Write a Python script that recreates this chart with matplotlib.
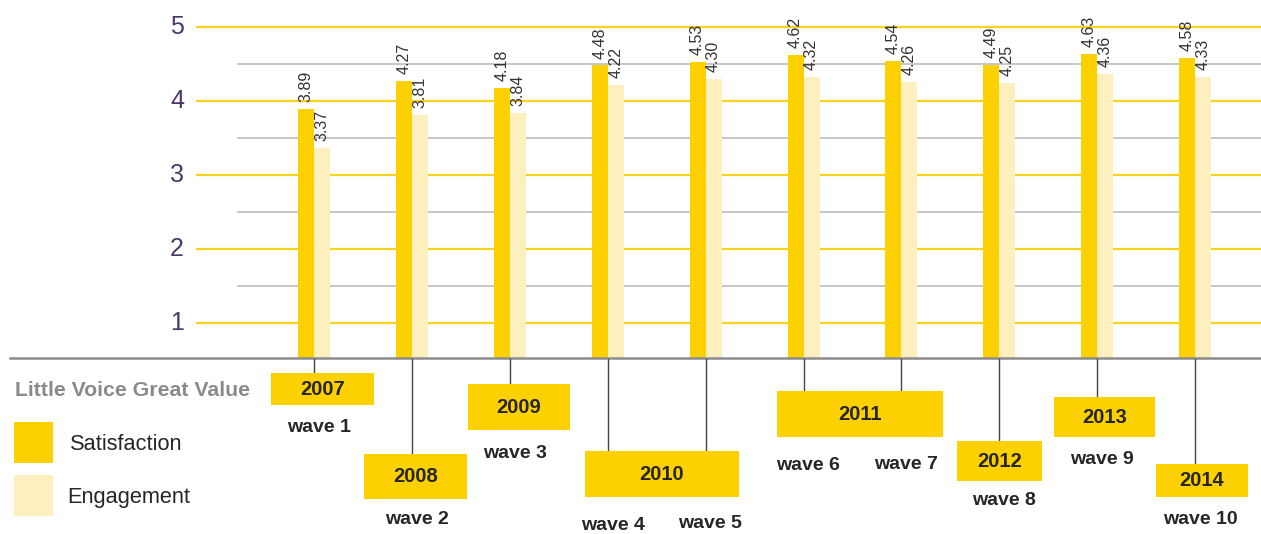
import numpy as np
from matplotlib import pyplot as plt
from matplotlib.patches import Rectangle

plt.rcParams['font.family'] = ['Liberation Sans', 'DejaVu Sans']

# data
waves = ['wave 1', 'wave 2', 'wave 3', 'wave 4', 'wave 5',
         'wave 6', 'wave 7', 'wave 8', 'wave 9', 'wave 10']
satisfaction = [3.89, 4.27, 4.18, 4.48, 4.53, 4.62, 4.54, 4.49, 4.63, 4.58]
engagement = [3.37, 3.81, 3.84, 4.22, 4.30, 4.32, 4.26, 4.25, 4.36, 4.33]
years = ['2007', '2008', '2009', '2010', '2011', '2012', '2013', '2014']
year_waves = [[0], [1], [2], [3, 4], [5, 6], [7], [8], [9]]
y_ticks = [1, 2, 3, 4, 5]

# layout (pixels from top for the timeline part)
box_x = [(-0.44, 0.61), (-0.49, 0.56), (-0.43, 0.62), (-0.23, 0.34),
         (-0.27, 0.42), (-0.43, 0.44), (-0.44, 0.59), (-0.40, 0.54)]
box_y = [(373, 405), (454, 499), (384, 430), (451, 497),
         (391, 437), (441, 481), (397, 437), (464, 497)]
wave_y = [427, 520, 453, 525, 524, 465, 464, 500, 459, 519]

SAT = '#FDD000'
ENG = '#FDF0BE'
GRID_Y = '#F9D21A'
GRID_G = '#BDBDC0'
PURPLE = '#4B3868'
TXT = '#262626'

W, H = 1261, 534
fig = plt.figure(figsize=(W / 100, H / 100), dpi=100)

base_px = 358
ax = fig.add_axes([0, (H - base_px) / H, 1, base_px / H])
x = np.arange(len(waves))
step = 97.9
x0 = 314
ax.set_xlim(-x0 / step, (W - x0) / step)
ax.set_ylim(1 - 35 / 74, 5 + 27 / 74)
ax.axis('off')

for v in y_ticks:
    ax.axhline(v, xmin=197 / W, xmax=1, color=GRID_Y, lw=1.6, zorder=1)
    ax.text(184 / W, v, str(v), transform=ax.get_yaxis_transform(),
            ha='right', va='center', fontsize=18, color=PURPLE)
for v in y_ticks[:-1]:
    ax.axhline(v + 0.5, xmin=238 / W, xmax=1, color=GRID_G, lw=1.2, zorder=1)

bw = 16 / step
b1 = ax.bar(x - bw / 2, satisfaction, bw, color=SAT, bottom=0, zorder=2)
b2 = ax.bar(x + bw / 2, engagement, bw, color=ENG, bottom=0, zorder=2)
for bars, vals in [(b1, satisfaction), (b2, engagement)]:
    for r, v in zip(bars, vals):
        ax.annotate(f'{v:.2f}', (r.get_x() + r.get_width() / 2, v),
                    xytext=(0, 5), textcoords='offset points',
                    rotation=90, ha='center', va='bottom',
                    fontsize=11.5, color='#333333')

ax.axhline(ax.get_ylim()[0], xmin=10 / W, xmax=1, color='#8C8C8C',
           lw=1.8, zorder=3, clip_on=False)

# timeline part below the baseline
tl = fig.add_axes([0, 0, 1, (H - base_px) / H])
tl.set_xlim(ax.get_xlim())
tl.set_ylim(H, base_px)
tl.axis('off')

for yr, idx, (l, r), (t, b) in zip(years, year_waves, box_x, box_y):
    left = idx[0] + l
    right = idx[-1] + r
    tl.add_patch(Rectangle((left, t), right - left, b - t,
                           color=SAT, lw=0, zorder=2))
    tl.text((left + right) / 2, (t + b) / 2, yr, ha='center', va='center',
            fontsize=14.5, fontweight='bold', color=TXT, zorder=3)
    for i in idx:
        tl.plot([i, i], [base_px + 1, t], color='#444444', lw=1, zorder=1)

for i, (wv, wy) in enumerate(zip(waves, wave_y)):
    tl.text(i + 0.05, wy, wv, ha='center', va='center',
            fontsize=14, fontweight='bold', color=TXT)

# legend
fig.text(15 / W, 1 - 391 / H, 'Little Voice Great Value', ha='left',
         va='center', fontsize=15.3, fontweight='bold', color='#8A8A8C')
for lab, col, top, tx in [('Satisfaction', SAT, 422, 70),
                          ('Engagement', ENG, 475, 67)]:
    fig.patches.append(Rectangle((14 / W, 1 - (top + 41) / H), 39 / W, 41 / H,
                                 transform=fig.transFigure, color=col, lw=0))
    fig.text(tx / W, 1 - (top + 23) / H, lab, ha='left', va='center',
             fontsize=15.7, color=TXT)

plt.savefig('out.png', dpi=100)
